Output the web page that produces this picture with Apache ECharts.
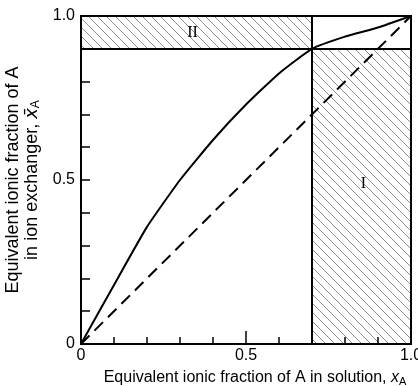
<!DOCTYPE html>
<html>
<head>
<meta charset="utf-8">
<script src="https://cdn.jsdelivr.net/npm/echarts@6/dist/echarts.min.js"></script>
<style>
  html, body { margin: 0; padding: 0; background: #fff; }
  #chart { width: 418px; height: 386px; }
</style>
</head>
<body>
<div id="chart"></div>
<script>
// equilibrium curve
const xSolution = [0, 0.1, 0.2, 0.3, 0.4, 0.5, 0.6, 0.7, 0.8, 0.9, 1.0];
const yExchanger = [0, 0.18, 0.357, 0.5, 0.622, 0.73, 0.825, 0.9, 0.937, 0.965, 1.0];
// 45 degree reference line
const diagX = [0, 1];
const diagY = [0, 1];
// region limits
const xLimit = 0.7;
const yLimit = 0.9;
const regionNames = ['II', 'I'];
// tick labels at 0, 0.5, 1
const xTickLabels = ['0', '0.5', '1.0'];
const yTickLabels = ['0', '0.5', '1.0'];

const FONT = 'Liberation Sans, Arial, sans-serif';

function hatch() {
  const s = 9;
  const c = document.createElement('canvas');
  c.width = s;
  c.height = s;
  const ctx = c.getContext('2d');
  ctx.strokeStyle = 'rgba(0,0,0,0.45)';
  ctx.lineWidth = 1;
  ctx.beginPath();
  ctx.moveTo(0, 0); ctx.lineTo(s, s);
  ctx.moveTo(-1, s - 1); ctx.lineTo(1, s + 1);
  ctx.moveTo(s - 1, -1); ctx.lineTo(s + 1, 1);
  ctx.stroke();
  return c;
}

const chart = echarts.init(document.getElementById('chart'));

const tickLabel = (labels) => (v) => {
  const i = Math.round(v * 2);
  return Math.abs(v * 2 - i) < 1e-6 ? labels[i] : '';
};

chart.setOption({
  animation: false,
  grid: {
    left: 81, right: 7, top: 16, bottom: 42,
    containLabel: false, outerBoundsMode: 'none',
    show: true, borderColor: '#000', borderWidth: 2
  },
  xAxis: {
    type: 'value', min: 0, max: 1, interval: 0.5,
    name: 'Equivalent ionic fraction of A in solution, {it|x}{sub|A}',
    nameLocation: 'middle', nameGap: 25,
    nameTextStyle: {
      color: '#000', fontFamily: FONT, fontSize: 16, padding: [0, 0, 0, 18],
      rich: {
        it: { fontStyle: 'italic', fontSize: 16, fontFamily: FONT, color: '#000' },
        sub: { fontSize: 11, fontFamily: FONT, color: '#000', verticalAlign: 'bottom', padding: [7, 0, 0, 0] }
      }
    },
    axisLine: { lineStyle: { color: '#000', width: 2 } },
    axisTick: { inside: true, length: 13, lineStyle: { color: '#000', width: 1.5 } },
    minorTick: { show: true, splitNumber: 5, length: 7, lineStyle: { color: '#000', width: 1.5 } },
    splitLine: { show: false },
    axisLabel: { formatter: tickLabel(xTickLabels), color: '#000', fontFamily: FONT, fontSize: 16, margin: 4 }
  },
  yAxis: {
    type: 'value', min: 0, max: 1, interval: 0.5,
    name: 'Equivalent ionic fraction of A\nin ion exchanger, {it|x̄}{sub|A}',
    nameLocation: 'middle', nameGap: 37, nameRotate: 90,
    nameTextStyle: {
      color: '#000', fontFamily: FONT, fontSize: 18, lineHeight: 19,
      rich: {
        it: { fontStyle: 'italic', fontSize: 18, fontFamily: 'DejaVu Sans, sans-serif', color: '#000' },
        sub: { fontSize: 12, fontFamily: FONT, color: '#000', verticalAlign: 'bottom', padding: [7, 0, 0, 0] }
      }
    },
    axisLine: { lineStyle: { color: '#000', width: 2 } },
    axisTick: { inside: true, length: 9, lineStyle: { color: '#000', width: 1.5 } },
    minorTick: { show: true, splitNumber: 5, length: 9, lineStyle: { color: '#000', width: 1.5 } },
    splitLine: { show: false },
    axisLabel: { formatter: tickLabel(yTickLabels), color: '#000', fontFamily: FONT, fontSize: 16, margin: 6 }
  },
  series: [
    {
      type: 'line',
      data: xSolution.map((x, i) => [x, yExchanger[i]]),
      smooth: 0.15,
      showSymbol: false,
      lineStyle: { color: '#000', width: 2 },
      z: 5,
      markArea: {
        silent: true,
        itemStyle: { color: { image: hatch(), repeat: 'repeat' } },
        label: {
          show: true, position: 'inside', color: '#000',
          fontFamily: 'Liberation Serif, serif', fontSize: 16
        },
        data: [
          [{ name: regionNames[0], coord: [0, yLimit], label: { offset: [-4, 0] } }, { coord: [xLimit, 1] }],
          [{ name: regionNames[1], coord: [xLimit, 0], label: { offset: [2, -13] } }, { coord: [1, yLimit] }]
        ]
      },
      markLine: {
        silent: true,
        symbol: 'none',
        label: { show: false },
        lineStyle: { color: '#000', width: 2, type: 'solid' },
        data: [{ xAxis: xLimit }, { yAxis: yLimit }]
      }
    },
    {
      type: 'line',
      data: diagX.map((x, i) => [x, diagY[i]]),
      showSymbol: false,
      lineStyle: { color: '#000', width: 2, type: [12, 7] },
      z: 4
    }
  ]
});
</script>
</body>
</html>
